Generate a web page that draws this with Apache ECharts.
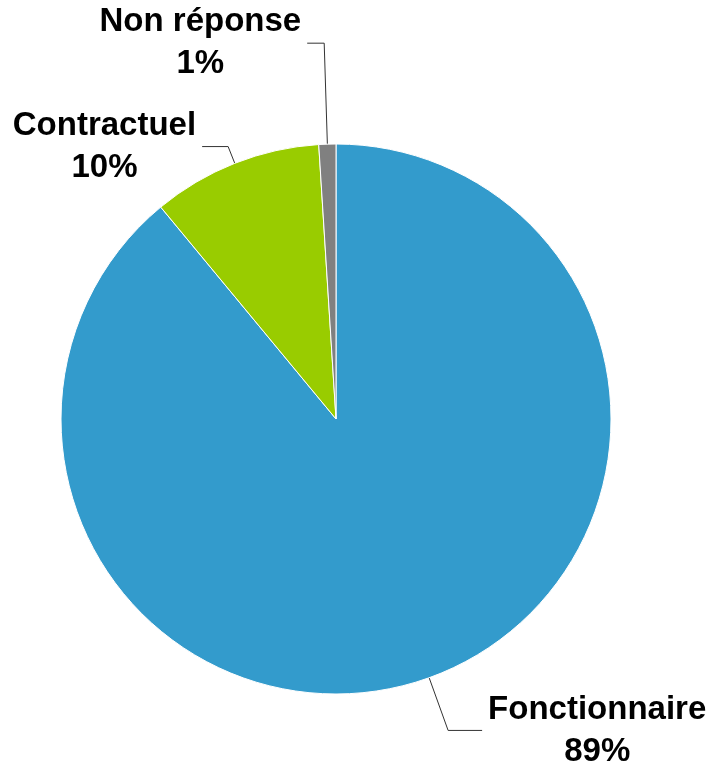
<!DOCTYPE html>
<html>
<head>
<meta charset="utf-8">
<script src="https://cdn.jsdelivr.net/npm/echarts@6/dist/echarts.min.js"></script>
<style>
  html, body { margin: 0; padding: 0; background: #fff; }
  #chart { width: 711px; height: 768px; }
</style>
</head>
<body>
<div id="chart"></div>
<script>
// Répartition par statut (en %)
const categories = ['Fonctionnaire', 'Contractuel', 'Non réponse'];
const values = [89, 10, 1];
const colors = ['#339BCC', '#99CC00', '#808080'];
// leader line lengths for each slice label: [radial, horizontal]
const leaderLengths = [[56, 34], [18, 26], [101, 17]];

const chart = echarts.init(document.getElementById('chart'), null, { renderer: 'canvas' });

const data = categories.map((name, i) => ({
  name: name,
  value: values[i],
  itemStyle: { color: colors[i] },
  labelLine: { length: leaderLengths[i][0], length2: leaderLengths[i][1] }
}));

chart.setOption({
  animation: false,
  backgroundColor: '#ffffff',
  series: [{
    type: 'pie',
    center: [336, 419],
    radius: 275,
    startAngle: 90,
    clockwise: true,
    avoidLabelOverlap: false,
    data: data,
    itemStyle: { borderColor: '#ffffff', borderWidth: 1 },
    label: {
      show: true,
      position: 'outside',
      formatter: '{t|{b}}\n{t|{c}%}',
      distanceToLabelLine: 6,
      rich: {
        t: {
          align: 'center',
          fontFamily: '"Liberation Sans", Arial, sans-serif',
          fontWeight: 'bold',
          fontSize: 33,
          lineHeight: 42,
          color: '#000000'
        }
      }
    },
    labelLine: {
      show: true,
      smooth: false,
      lineStyle: { color: '#333333', width: 1 }
    },
    emphasis: { disabled: true }
  }]
});
</script>
</body>
</html>
